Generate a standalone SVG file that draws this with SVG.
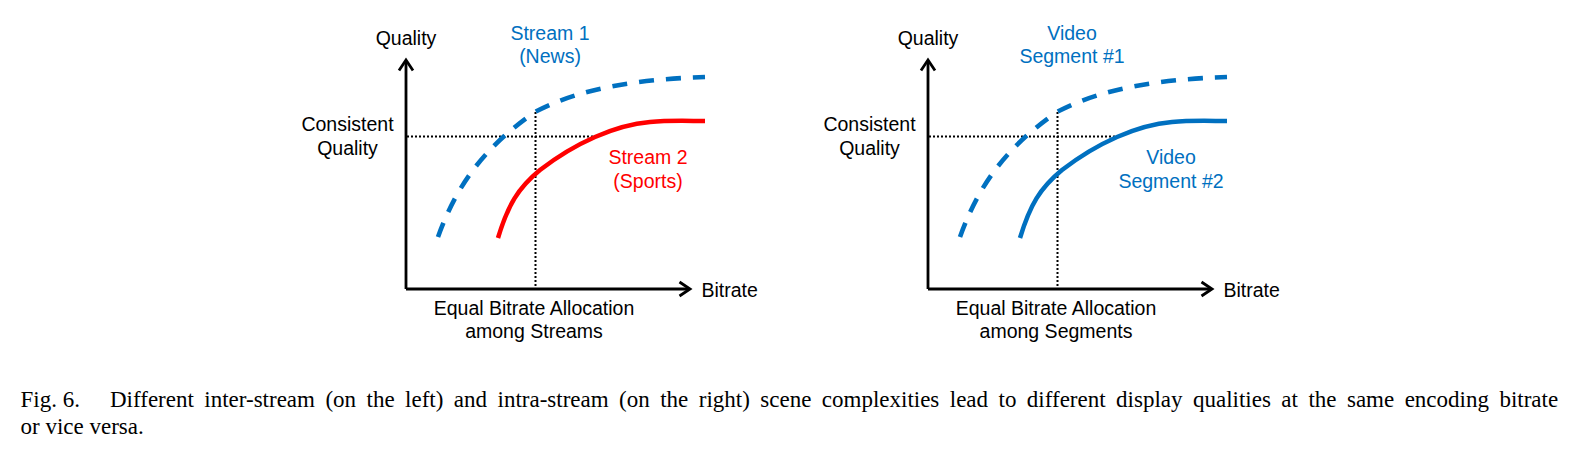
<svg xmlns="http://www.w3.org/2000/svg" xmlns:xlink="http://www.w3.org/1999/xlink" width="1580" height="457" viewBox="0 0 1580 457">
<style>
.t{font-family:"Liberation Sans",Arial,sans-serif;font-size:19.5px;fill:#000;text-anchor:middle}
.blue{fill:#0070C0}
.red{fill:#FF0000}
.axis{fill:none;stroke:#000;stroke-width:2.8}
.dot{fill:none;stroke:#000;stroke-width:2;stroke-dasharray:2 2}
.dash{fill:none;stroke:#0070C0;stroke-width:4.6;stroke-dasharray:15 12}
.solid{fill:none;stroke-width:4.5;stroke-linecap:butt}
.cap{font-family:"Liberation Serif","Times New Roman",serif;font-size:23px;fill:#000}
</style>
<defs>
<g id="axes">
<path class="axis" d="M406,289 V61 M406,289 H689"/>
<polyline class="axis" points="399,70.5 406,60 413,70.5"/>
<polyline class="axis" points="679.5,282 690,289 679.5,296"/>
<path class="dot" d="M407,136.5 H598 M535.5,112 V288"/>
</g>
<path id="upper" class="dash" d="M438,237 C455,190 480,150 535,112 C580,88 640,79 705,77"/>
<path id="lower" d="M498,238 C508,205 518,188 540,170 C575,143 615,125 650,122 C670,120 690,121 705,121"/>
</defs>
<g id="left-chart">
<use xlink:href="#axes"/>
<use xlink:href="#upper"/>
<use xlink:href="#lower" class="solid" stroke="#FF0000"/>
<text class="t" x="406" y="45">Quality</text>
<text class="t blue" x="550" y="40">Stream 1</text>
<text class="t blue" x="550" y="63">(News)</text>
<text class="t" x="347.5" y="131">Consistent</text>
<text class="t" x="347.5" y="155">Quality</text>
<text class="t red" x="648" y="164">Stream 2</text>
<text class="t red" x="648" y="188">(Sports)</text>
<text class="t" x="701.5" y="297" style="text-anchor:start">Bitrate</text>
<text class="t" x="534" y="315">Equal Bitrate Allocation</text>
<text class="t" x="534" y="338">among Streams</text>
</g>
<g id="right-chart">
<g transform="translate(522,0)">
<use xlink:href="#axes"/>
<use xlink:href="#upper"/>
<use xlink:href="#lower" class="solid" stroke="#0070C0"/>
</g>
<text class="t" x="928" y="45">Quality</text>
<text class="t blue" x="1072" y="40">Video</text>
<text class="t blue" x="1072" y="63">Segment #1</text>
<text class="t" x="869.5" y="131">Consistent</text>
<text class="t" x="869.5" y="155">Quality</text>
<text class="t blue" x="1171" y="164">Video</text>
<text class="t blue" x="1171" y="188">Segment #2</text>
<text class="t" x="1223.5" y="297" style="text-anchor:start">Bitrate</text>
<text class="t" x="1056" y="315">Equal Bitrate Allocation</text>
<text class="t" x="1056" y="338">among Segments</text>
</g>
<g id="caption">
<text class="cap" y="406.5"><tspan x="20.5">Fig. 6.</tspan><tspan x="110" word-spacing="4.7">Different inter-stream (on the left) and intra-stream (on the right) scene complexities lead to different display qualities at the same encoding bitrate</tspan></text>
<text class="cap" x="20.5" y="434">or vice versa.</text>
</g>
</svg>
